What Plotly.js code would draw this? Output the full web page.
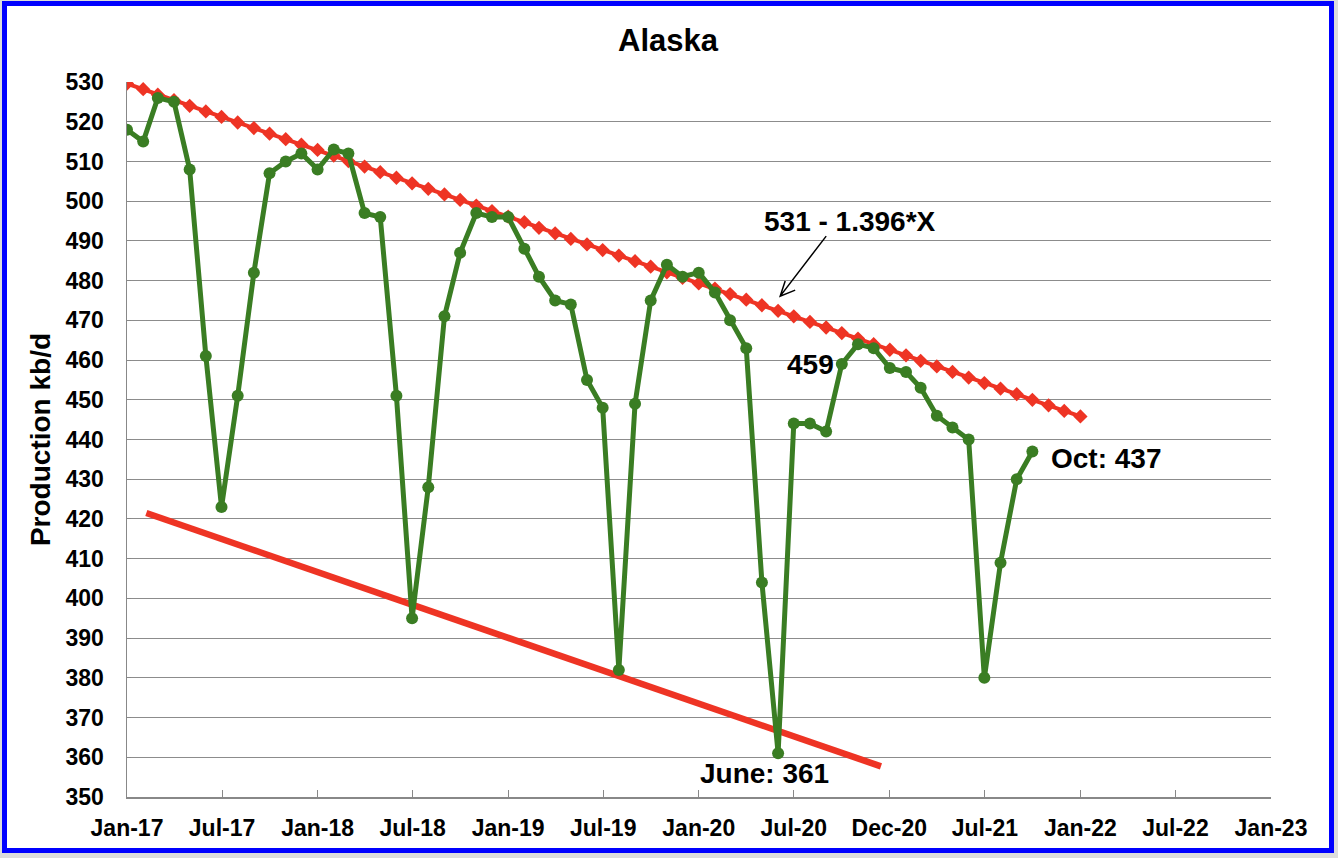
<!DOCTYPE html>
<html>
<head>
<meta charset="utf-8">
<script src="https://cdn.plot.ly/plotly-3.0.1.min.js"></script>
<style>
  html, body { margin: 0; padding: 0; background: #dcdcdc; }
  #frame {
    position: absolute; left: 2px; top: 1px;
    width: 1332px; height: 852px;
    border: 5px solid #0000ff; box-sizing: border-box; background: #ffffff;
  }
  #chart { width: 1322px; height: 842px; }
</style>
</head>
<body>
<div id="frame"><div id="chart"></div></div>
<script>
// ---- Data (kb/d), monthly from Jan-2017 ----
const startYear = 2017;
const production = [
  518, 515, 526, 525, 508, 461, 423, 451, 482, 507, 510, 512,   // 2017
  508, 513, 512, 497, 496, 451, 395, 428, 471, 487, 497, 496,   // 2018
  496, 488, 481, 475, 474, 455, 448, 382, 449, 475, 484, 481,   // 2019
  482, 477, 470, 463, 404, 361, 444, 444, 442, 459, 464, 463,   // 2020
  458, 457, 453, 446, 443, 440, 380, 409, 430, 437              // 2021 (to Oct)
];
// Trend line: 531 - 1.396*X, Jan-17 .. Jan-22
const trendValues = [
  529.6, 528.2, 526.8, 525.4, 524.0, 522.6, 521.2, 519.8, 518.4, 517.0, 515.6, 514.2,
  512.9, 511.5, 510.1, 508.7, 507.3, 505.9, 504.5, 503.1, 501.7, 500.3, 498.9, 497.5,
  496.1, 494.7, 493.3, 491.9, 490.5, 489.1, 487.7, 486.3, 484.9, 483.5, 482.1, 480.7,
  479.3, 478.0, 476.6, 475.2, 473.8, 472.4, 471.0, 469.6, 468.2, 466.8, 465.4, 464.0,
  462.6, 461.2, 459.8, 458.4, 457.0, 455.6, 454.2, 452.8, 451.4, 450.0, 448.6, 447.2,
  445.8
];
// Lower (minimum) trend line endpoints
const lowDates = ['2017-02-07', '2020-12-15'];
const lowValues = [421.5, 357.7];

const tickDates = ['2017-01-01','2017-07-02','2018-01-01','2018-07-02','2019-01-01','2019-07-02',
                   '2020-01-01','2020-07-01','2020-12-31','2021-07-02','2022-01-01','2022-07-02','2023-01-01'];
const tickLabels = ['Jan-17','Jul-17','Jan-18','Jul-18','Jan-19','Jul-19',
                    'Jan-20','Jul-20','Dec-20','Jul-21','Jan-22','Jul-22','Jan-23'];

function monthDate(i) {
  const y = startYear + Math.floor(i / 12);
  const m = (i % 12) + 1;
  return y + '-' + (m < 10 ? '0' + m : m) + '-01';
}
const prodDates = production.map((_, i) => monthDate(i));
const trendDates = trendValues.map((_, i) => monthDate(i));

const GREEN = '#3a7d23';
const RED = '#ee3424';
const FONT = '"Liberation Sans", Arial, sans-serif';

const traces = [
  {
    x: lowDates, y: lowValues, type: 'scatter', mode: 'lines',
    line: { color: RED, width: 6.5 }, hoverinfo: 'skip'
  },
  {
    x: trendDates, y: trendValues, type: 'scatter', mode: 'lines+markers',
    line: { color: RED, width: 4 },
    marker: { symbol: 'diamond', size: 11, color: RED }
  },
  {
    x: prodDates, y: production, type: 'scatter', mode: 'lines+markers',
    line: { color: GREEN, width: 5 },
    marker: { symbol: 'circle', size: 12, color: GREEN }
  }
];

const layout = {
  width: 1322, height: 842,
  margin: { l: 120, r: 58, t: 76, b: 51 },
  paper_bgcolor: '#ffffff', plot_bgcolor: '#ffffff',
  showlegend: false,
  font: { family: FONT, color: '#000000' },
  title: {
    text: 'Alaska', x: 0.5, xanchor: 'center', y: 0.9596, yanchor: 'middle',
    yref: 'container', font: { family: FONT, size: 31, weight: 'bold', color: '#000' }
  },
  xaxis: {
    type: 'date', range: ['2017-01-01', '2023-01-01'],
    tickmode: 'array', tickvals: tickDates, ticktext: tickLabels,
    showgrid: false, zeroline: false,
    showline: true, linecolor: '#888888', linewidth: 1.5,
    ticks: 'inside', ticklen: 7, tickcolor: '#888888', tickwidth: 1,
    ticklabelstandoff: 10,
    tickfont: { family: FONT, size: 23, weight: 'bold', color: '#000' }
  },
  yaxis: {
    range: [350, 530], dtick: 10, tick0: 350,
    showgrid: true, gridcolor: '#8c8c8c', gridwidth: 1,
    zeroline: false, showline: true, linecolor: '#888888', linewidth: 1.5,
    ticks: 'inside', ticklen: 4, tickcolor: '#888888',
    ticklabelstandoff: 17,
    tickfont: { family: FONT, size: 23, weight: 'bold', color: '#000' },
    title: { text: 'Production kb/d', standoff: 6,
             font: { family: FONT, size: 28, weight: 'bold', color: '#000' } }
  },
  annotations: [
    { x: '2020-10-16', y: 494.8, xref: 'x', yref: 'y', text: '531 - 1.396*X', showarrow: false,
      font: { family: FONT, size: 28, weight: 'bold', color: '#000' } },
    { x: '2020-08-02', y: 459.0, xref: 'x', yref: 'y', text: '459', showarrow: false,
      font: { family: FONT, size: 28, weight: 'bold', color: '#000' } },
    { x: '2020-05-05', y: 356.0, xref: 'x', yref: 'y', text: 'June: 361', showarrow: false,
      font: { family: FONT, size: 28, weight: 'bold', color: '#000' } },
    { x: '2022-02-20', y: 435.1, xref: 'x', yref: 'y', text: 'Oct: 437', showarrow: false,
      font: { family: FONT, size: 28, weight: 'bold', color: '#000' } }
  ],
  shapes: [
    { type: 'path', xref: 'x', yref: 'y', xsizemode: 'pixel', ysizemode: 'pixel',
      xanchor: '2020-06-05', yanchor: 476.1,
      path: 'M 46 60 L 0 0 M 15 6 L 0 0 L 5 15',
      line: { color: '#000000', width: 1.5 } }
  ]
};

Plotly.newPlot('chart', traces, layout, { displayModeBar: false, staticPlot: true });
</script>
</body>
</html>
